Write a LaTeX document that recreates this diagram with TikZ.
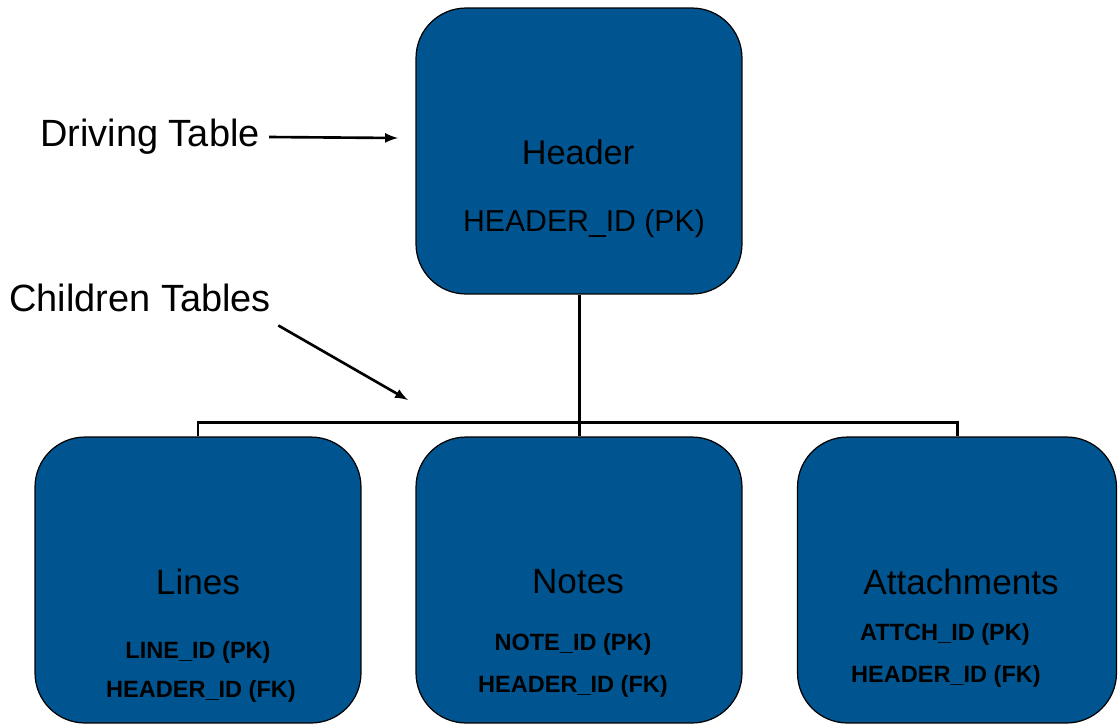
\documentclass[tikz,border=0pt]{standalone}
\usepackage{fontspec}
\setmainfont{Liberation Sans}
\usepackage{tikz}
\usetikzlibrary{positioning}
\definecolor{tblblue}{RGB}{0,85,145}

\tikzset{
  tbl/.style={draw=black, line width=0.7pt, fill=tblblue, rounded corners=1cm,
    minimum width=6.52cm, minimum height=5.72cm, inner sep=0pt},
  ttl/.style={font=\fontsize{20}{22}\selectfont, inner sep=0pt},
  key/.style={font=\fontsize{13.4}{15}\selectfont\bfseries, inner sep=0pt},
  note/.style={font=\fontsize{21.6}{24}\selectfont, inner sep=0pt}
}

\begin{document}
\begin{tikzpicture}[x=0.02cm, y=-0.02cm, line width=1.7pt, >=latex]
\useasboundingbox (0,0) rectangle (1118,725);
% tables
\node[tbl] (header) at (579,151) {};
\node[tbl] (lines) at (198,580) {};
\node[tbl] (notes) at (579,580) {};
\node[tbl, minimum width=6.38cm] (attach) at (957,580) {};
% header text
\node[ttl, font=\fontsize{19.5}{21}\selectfont] (hdrname) at (578,152) {Header};
\node[ttl, font=\fontsize{17.2}{19}\selectfont] (hdrpk) at (584,224) {HEADER\_ID (PK)};
% children text
\node[ttl] (linname) at (198,582) {Lines};
\node[key] (linpk) at (198,652) {LINE\_ID (PK)};
\node[key] (linfk) at (201,691) {HEADER\_ID (FK)};
\node[ttl] (notname) at (578,582) {Notes};
\node[key] (notpk) at (573,644) {NOTE\_ID (PK)};
\node[key] (notfk) at (573,686) {HEADER\_ID (FK)};
\node[ttl] (attname) at (961,582) {Attachments};
\node[key] (attpk) at (945,634) {ATTCH\_ID (PK)};
\node[key] (attfk) at (946,676) {HEADER\_ID (FK)};
% joins
\coordinate (bus) at (579,422);
\draw (header.south) -- (notes.north);
\draw (lines.north) |- (bus) -| (attach.north);
% labels
\node[note] (driving) at (150,137) {Driving Table};
\node[note] (children) at (140,298) {Children Tables};
\coordinate (drvend) at (398,138);
\coordinate (chdend) at (408,400);
\draw[->, line width=1.5pt] ([xshift=0.16cm]driving.east) -- (drvend);
\draw[->, line width=1.5pt] ([shift={(6,12)}]children.south east) -- (chdend);
\end{tikzpicture}
\end{document}
